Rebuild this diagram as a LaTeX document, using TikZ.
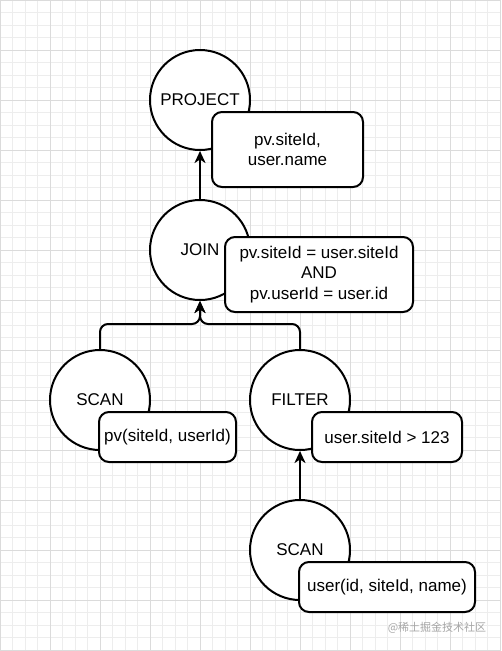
\documentclass[tikz,border=0pt]{standalone}
\usepackage{fontspec}
\setmainfont{Liberation Sans}
\newfontfamily\cjk{Noto Sans CJK SC}
\usetikzlibrary{arrows.meta,positioning}

\tikzset{
  minorline/.style={draw=black!7,line width=0.8pt},
  majorline/.style={draw=black!14,line width=0.8pt},
  opnode/.style={circle,draw,line width=2pt,fill=white,minimum size=100,inner sep=0pt,
    font=\fontsize{17}{20.5}\selectfont},
  argbox/.style={rectangle,rounded corners=10,draw,line width=2pt,fill=white,inner sep=0pt,
    align=center,font=\fontsize{17}{20.5}\selectfont},
  flow/.style={line width=2pt,-{Stealth[length=12pt,width=11pt,inset=3.5pt]}}
}

\begin{document}
\begin{tikzpicture}[x=1pt,y=-1pt]

		\useasboundingbox (0,0) rectangle (501,651);
		
		% grid
		\foreach \g in {0,12.5,...,651} \draw[minorline] (0,\g) -- (501,\g);
		\foreach \g in {0,12.5,...,501} \draw[minorline] (\g,0) -- (\g,651);
		\foreach \g in {0,50,...,651} \draw[majorline] (0,\g) -- (501,\g);
		\foreach \g in {0,50,...,501} \draw[majorline] (\g,0) -- (\g,651);
		
		% operators
		\node[opnode] (project) at (200,100) {PROJECT};
		\node[opnode] (join) at (200,250) {JOIN};
		\node[opnode] (scanpv) at (100,400) {SCAN};
		\node[opnode] (filter) at (300,400) {FILTER};
		\node[opnode] (scanuser) at (300,550) {SCAN};
		
		% arguments
		\node[argbox,minimum width=151,minimum height=75] (projectargs) at (287.5,149.5) {pv.siteId,\\user.name};
		\node[argbox,minimum width=188,minimum height=75] (joinargs) at (319,274.5) {pv.siteId = user.siteId\\AND\\pv.userId = user.id};
		\node[argbox,minimum width=137,minimum height=50] (scanpvargs) at (167.5,437) {pv(siteId, userId)};
		\node[argbox,minimum width=150,minimum height=50] (filterargs) at (387,437) {user.siteId > 123};
		\node[argbox,minimum width=176,minimum height=50] (scanuserargs) at (387,587) {user(id, siteId, name)};
		
		% data flow
		\draw[flow] (join.north) -- (project.south);
		\draw[flow,rounded corners=8] (scanpv.north) -- ++(0,-25) -| (join.south);
		\draw[flow,rounded corners=8] (filter.north) -- ++(0,-25) -| (join.south);
		\draw[flow] (scanuser.north) -- (filter.south);
		
		\node[text=black!35,font=\cjk\fontsize{11}{13}\selectfont] (mark) at (437,628) {@稀土掘金技术社区};
		
	\end{tikzpicture}
\end{document}
